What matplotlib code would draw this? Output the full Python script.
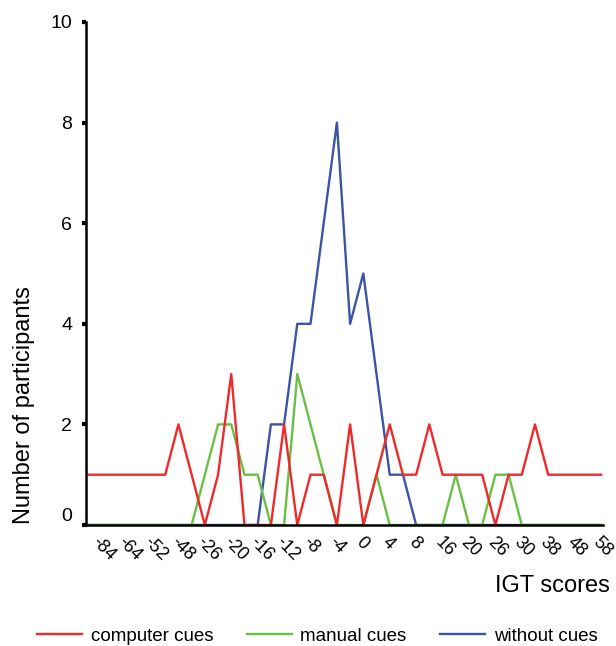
# IGT score distribution for the three cue conditions
import numpy as np
import matplotlib
matplotlib.use('Agg')
import matplotlib.pyplot as plt
from matplotlib.transforms import ScaledTranslation

plt.rcParams['font.family'] = ['Liberation Sans', 'DejaVu Sans']

# labelled scores (every second category is labelled on the axis)
score_labels = ['-84', '-64', '-52', '-48', '-26', '-20', '-16', '-12', '-8', '-4',
                '0', '4', '8', '16', '20', '26', '30', '38', '48', '58']

# number of participants per score category (40 categories)
computer_cues = [1, 1, 1, 1, 1, 1, 1, 2, 1, 0, 1, 3, 0, 0, 0, 2, 0, 1, 1, 0,
                 2, 0, 1, 2, 1, 1, 2, 1, 1, 1, 1, 0, 1, 1, 2, 1, 1, 1, 1, 1]
manual_cues = [0, 0, 0, 0, 0, 0, 0, 0, 0, 1, 2, 2, 1, 1, 0, 0, 3, 2, 1, 0,
               0, 0, 1, 0, 0, 0, 0, 0, 1, 0, 0, 1, 1, 0, 0, 0, 0, 0, 0, 0]
without_cues = [0, 0, 0, 0, 0, 0, 0, 0, 0, 0, 0, 0, 0, 0, 2, 2, 4, 4, 6, 8,
                4, 5, 3, 1, 1, 0, 0, 0, 0, 0, 0, 0, 0, 0, 0, 0, 0, 0, 0, 0]

x = np.arange(len(computer_cues))

fig = plt.figure(figsize=(6.16, 6.46), dpi=100)
ax = fig.add_axes([86 / 616, 121 / 646, 517 / 616, 503 / 646])

# plot lines (red drawn on top like in the original)
ax.plot(x, without_cues, color='#3a55a6', lw=1.7, label='without cues', zorder=2)
ax.plot(x, manual_cues, color='#6abf45', lw=1.7, label='manual cues', zorder=2.1)
ax.plot(x, computer_cues, color='#ee2a2a', lw=1.7, label='computer cues', zorder=2.2)

ax.set_xlim(0, 39.15)
ax.set_ylim(0, 10)

for s in ['top', 'right']:
    ax.spines[s].set_visible(False)
for s in ['left', 'bottom']:
    ax.spines[s].set_linewidth(1.8)
    ax.spines[s].set_zorder(3)

# y axis
ax.set_yticks(np.arange(0, 11, 2))
ax.tick_params(axis='y', direction='out', length=3, width=3, pad=7, labelsize=14)
ax.get_yticklabels()[0].set_va('bottom')

# x axis: rotated labels on every second category
ax.set_xticks(x[::2])
ax.set_xticklabels(score_labels, rotation=-45, ha='left', va='center',
                   rotation_mode='anchor', fontsize=13)
ax.tick_params(axis='x', length=0, pad=11)
offset = ScaledTranslation(0.08, 0, fig.dpi_scale_trans)
for lab in ax.get_xticklabels():
    lab.set_transform(lab.get_transform() + offset)

# labels
ax.set_xlabel('IGT scores', fontsize=17, ha='right', va='center')
ax.xaxis.set_label_coords(1.0135, -0.121)
ax.set_ylabel('Number of participants', fontsize=17, ha='center', va='center')
ax.yaxis.set_label_coords(-0.12, 0.239)

# legend under the chart
h, l = ax.get_legend_handles_labels()
fig.legend(h[::-1], l[::-1], loc='center', bbox_to_anchor=(0.515, 0.015), ncol=3,
           frameon=False, fontsize=13.5, handlelength=2.4, handletextpad=0.45,
           columnspacing=1.8)

fig.savefig('out.png', dpi=100)
